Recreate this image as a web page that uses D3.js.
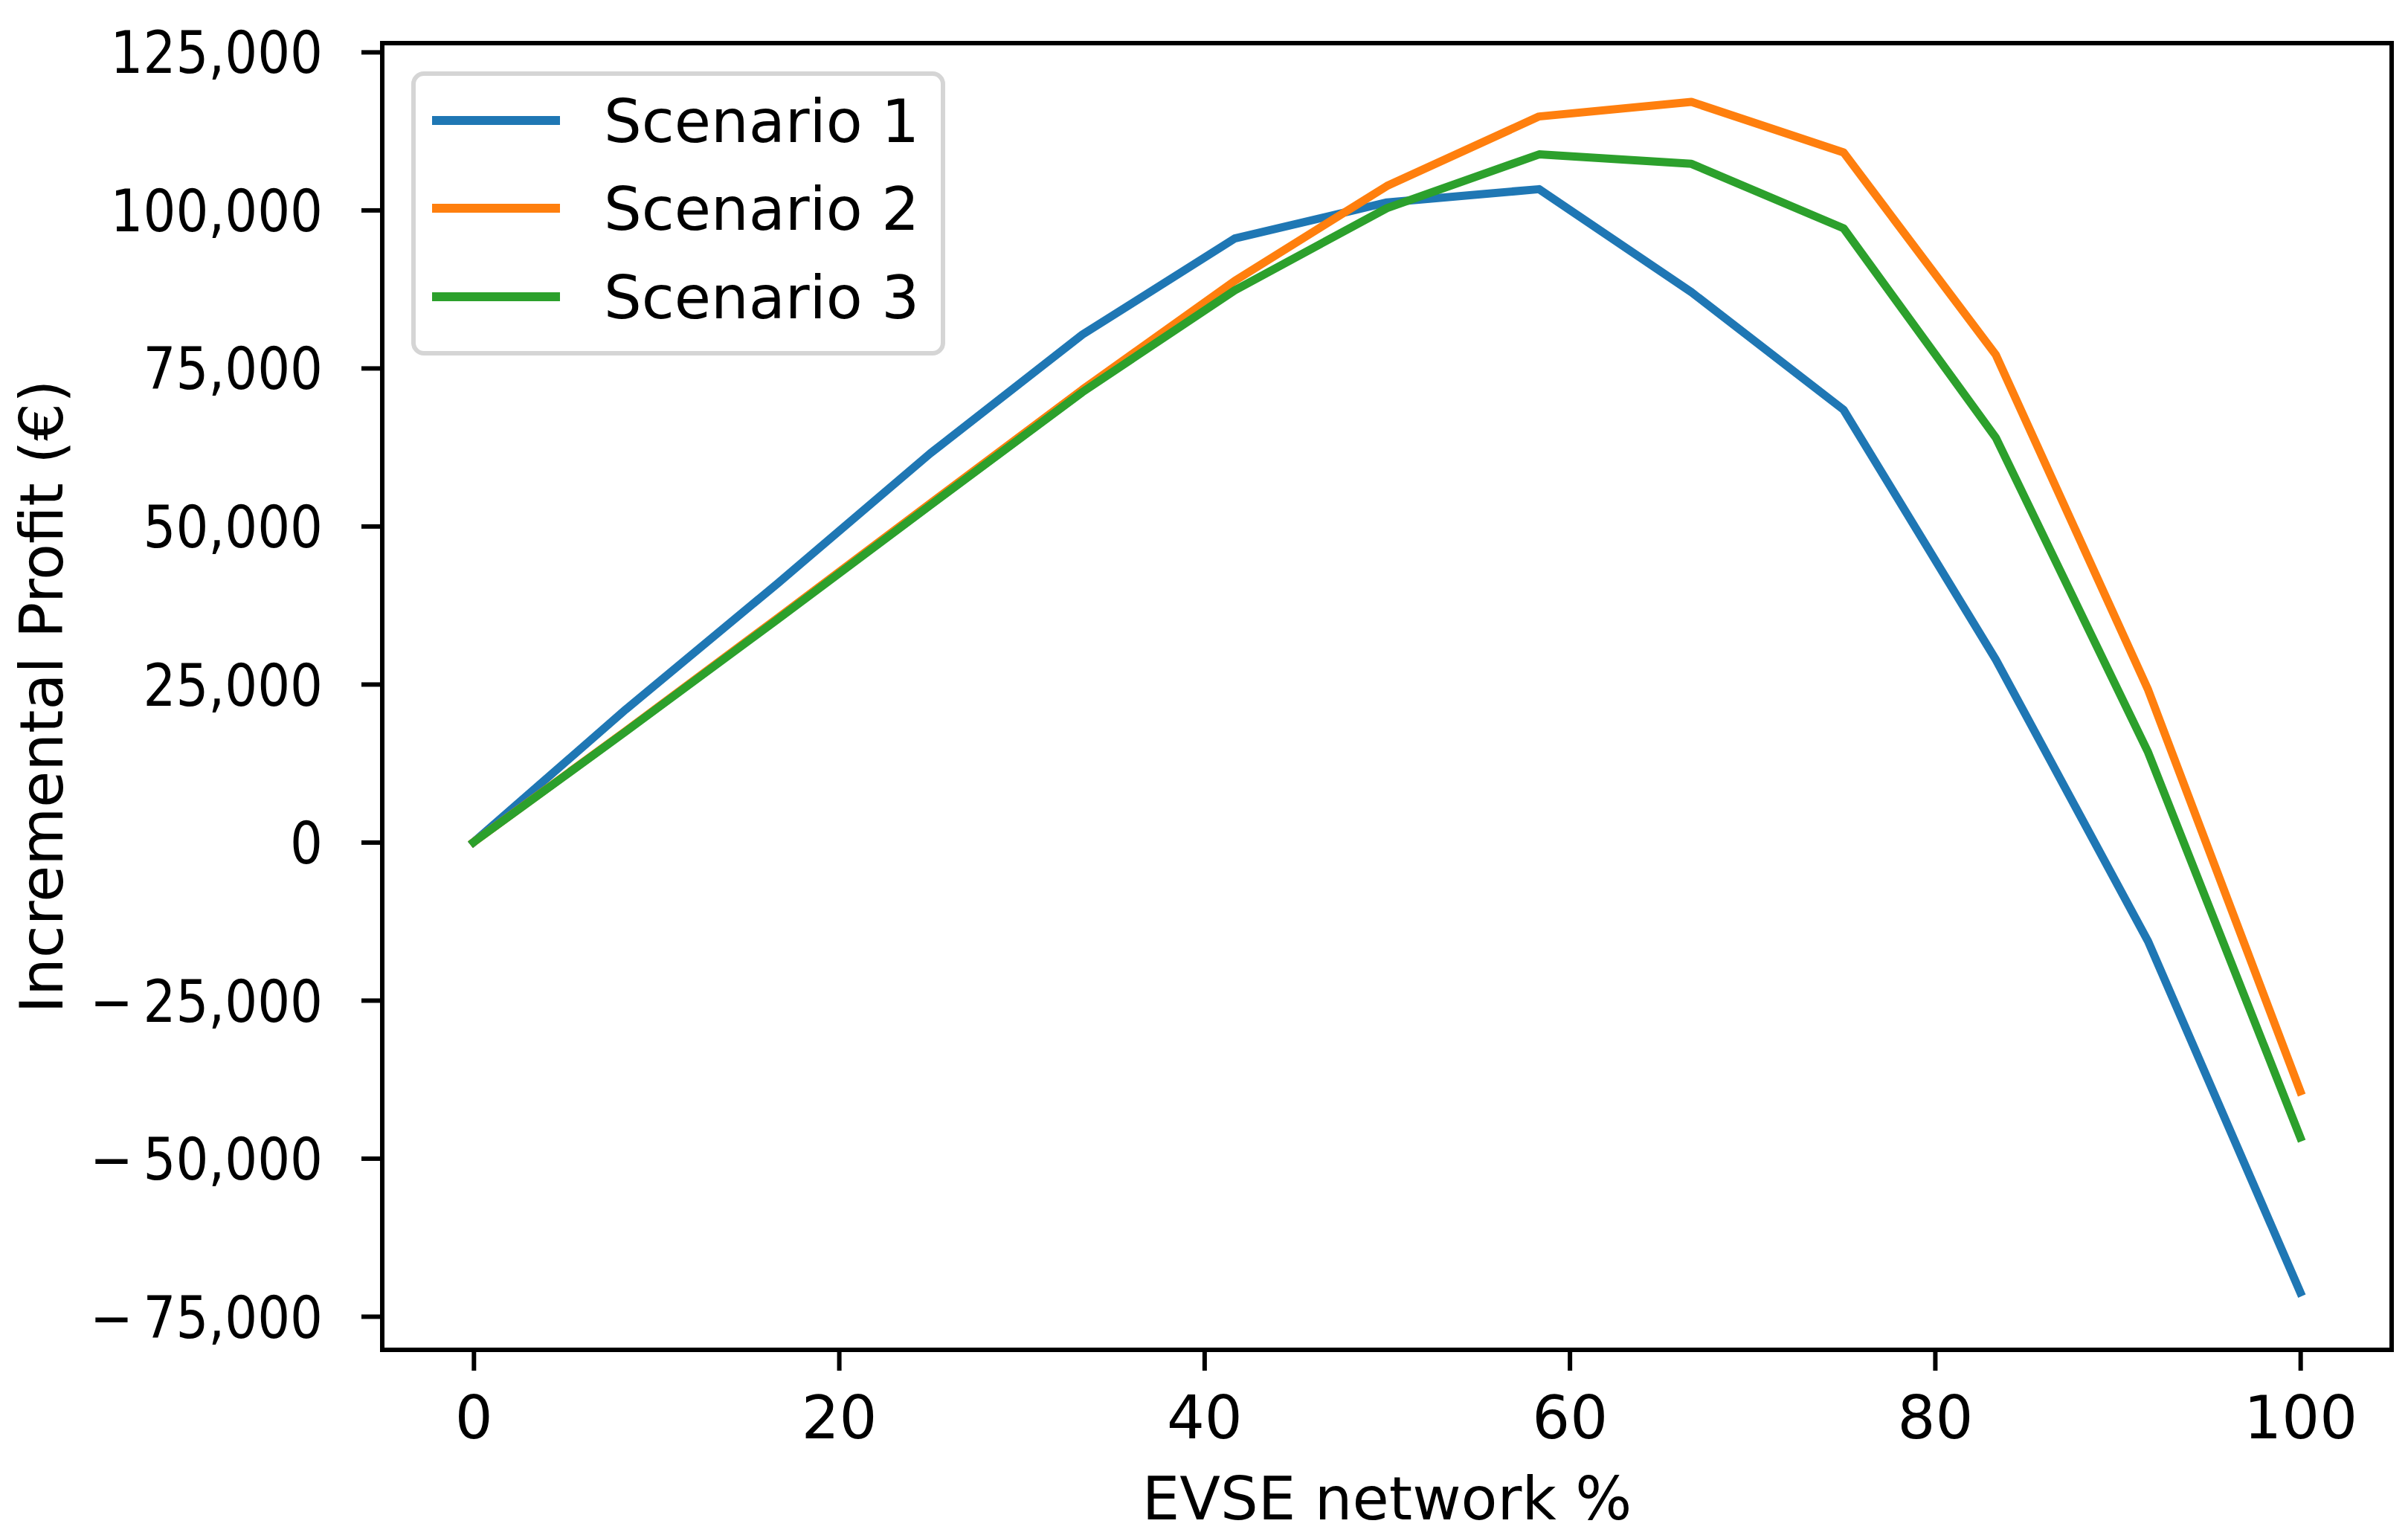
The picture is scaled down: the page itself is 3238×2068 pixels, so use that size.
<!DOCTYPE html>
<html>
<head>
<meta charset="utf-8">
<script src="https://cdn.jsdelivr.net/npm/d3@7"></script>
<style>
  body { margin: 0; background: #fff; }
  text { font-family: "DejaVu Sans", sans-serif; fill: #000; }
</style>
</head>
<body>
<div id="chart"></div>
<script>
// data
const networkPct = [0, 8.33, 16.67, 25, 33.33, 41.67, 50, 58.33, 66.67, 75, 83.33, 91.67, 100];
const scenario1 = [0, 21000, 41000, 61500, 80300, 95500, 101200, 103300, 87000, 68400, 28900, -15700, -71200];
const scenario2 = [0, 17600, 35500, 53600, 71600, 88800, 103800, 114800, 117100, 109100, 77100, 24100, -39400];
const scenario3 = [0, 17500, 35300, 53300, 71200, 87300, 100300, 108800, 107300, 97100, 64000, 14200, -46700];
const seriesNames = ["Scenario 1", "Scenario 2", "Scenario 3"];
const seriesColors = ["#1f77b4", "#ff7f0e", "#2ca02c"];
const xTicks = [0, 20, 40, 60, 80, 100];
const yTicks = [-75000, -50000, -25000, 0, 25000, 50000, 75000, 100000, 125000];

const W = 3238, H = 2068;
const plotLeft = 514, plotRight = 3216, plotTop = 58, plotBottom = 1815;

let svg = d3.select("#chart").append("svg")
  .attr("width", W)
  .attr("height", H);

let xScale = d3.scaleLinear().domain([-5, 105]).range([plotLeft, plotRight]);
let yScale = d3.scaleLinear().domain([-80300, 126400]).range([plotBottom, plotTop]);

// y axis ticks (labels are a bit narrow in the original, squeeze them)
let squeeze = 0.885;
let fmt = (v) => (v < 0 ? "\u2212\u2009" : "") + d3.format(",")(Math.abs(v));
let yAxis = d3.axisLeft(yScale).tickValues(yTicks).tickSize(28).tickFormat(fmt);
let gy = svg.append("g").attr("transform", `translate(${plotLeft},0)`).call(yAxis);
gy.select(".domain").remove();
gy.selectAll(".tick line").attr("stroke", "#000").attr("stroke-width", 6);
gy.selectAll(".tick text")
  .attr("font-size", 78)
  .attr("font-family", "DejaVu Sans")
  .attr("x", -80 / squeeze)
  .attr("dy", "0.36em")
  .attr("transform", `scale(${squeeze},1)`);

// x axis ticks
let xAxis = d3.axisBottom(xScale).tickValues(xTicks).tickSize(28).tickPadding(34);
let gx = svg.append("g").attr("transform", `translate(0,${plotBottom})`).call(xAxis);
gx.select(".domain").remove();
gx.selectAll(".tick line").attr("stroke", "#000").attr("stroke-width", 6);
gx.selectAll(".tick text")
  .attr("font-size", 80)
  .attr("font-family", "DejaVu Sans")
  .attr("dy", "0.71em");

// lines
let allSeries = [scenario1, scenario2, scenario3];
let line = d3.line()
  .x((d, i) => xScale(networkPct[i]))
  .y((d) => yScale(d));

svg.selectAll("path.series")
  .data(allSeries)
  .enter()
  .append("path")
  .attr("class", "series")
  .attr("d", (d) => line(d))
  .attr("fill", "none")
  .attr("stroke", (d, i) => seriesColors[i])
  .attr("stroke-width", 11)
  .attr("stroke-linejoin", "round")
  .attr("stroke-linecap", "square");

// frame
svg.append("rect")
  .attr("x", plotLeft).attr("y", plotTop)
  .attr("width", plotRight - plotLeft).attr("height", plotBottom - plotTop)
  .attr("fill", "none")
  .attr("stroke", "#000")
  .attr("stroke-width", 6);

// legend
let legend = svg.append("g");
legend.append("rect")
  .attr("x", 556).attr("y", 99)
  .attr("width", 712).attr("height", 376)
  .attr("rx", 14)
  .attr("fill", "#fff")
  .attr("fill-opacity", 0.8)
  .attr("stroke", "#d5d5d5")
  .attr("stroke-width", 6);

let rowY = [162, 280, 399];
seriesNames.forEach((name, i) => {
  legend.append("line")
    .attr("x1", 587).attr("x2", 747)
    .attr("y1", rowY[i]).attr("y2", rowY[i])
    .attr("stroke", seriesColors[i])
    .attr("stroke-width", 12)
    .attr("stroke-linecap", "square");
  legend.append("text")
    .attr("x", 812)
    .attr("y", rowY[i] + 29)
    .attr("font-size", 80)
    .text(name);
});

// axis labels
svg.append("text")
  .attr("x", (plotLeft + plotRight) / 2)
  .attr("y", 2043)
  .attr("text-anchor", "middle")
  .attr("font-size", 80)
  .text("EVSE network %");

svg.append("text")
  .attr("transform", `translate(84,${(plotTop + plotBottom) / 2}) rotate(-90)`)
  .attr("text-anchor", "middle")
  .attr("font-size", 80)
  .text("Incremental Profit (\u20ac)");
</script>
</body>
</html>
